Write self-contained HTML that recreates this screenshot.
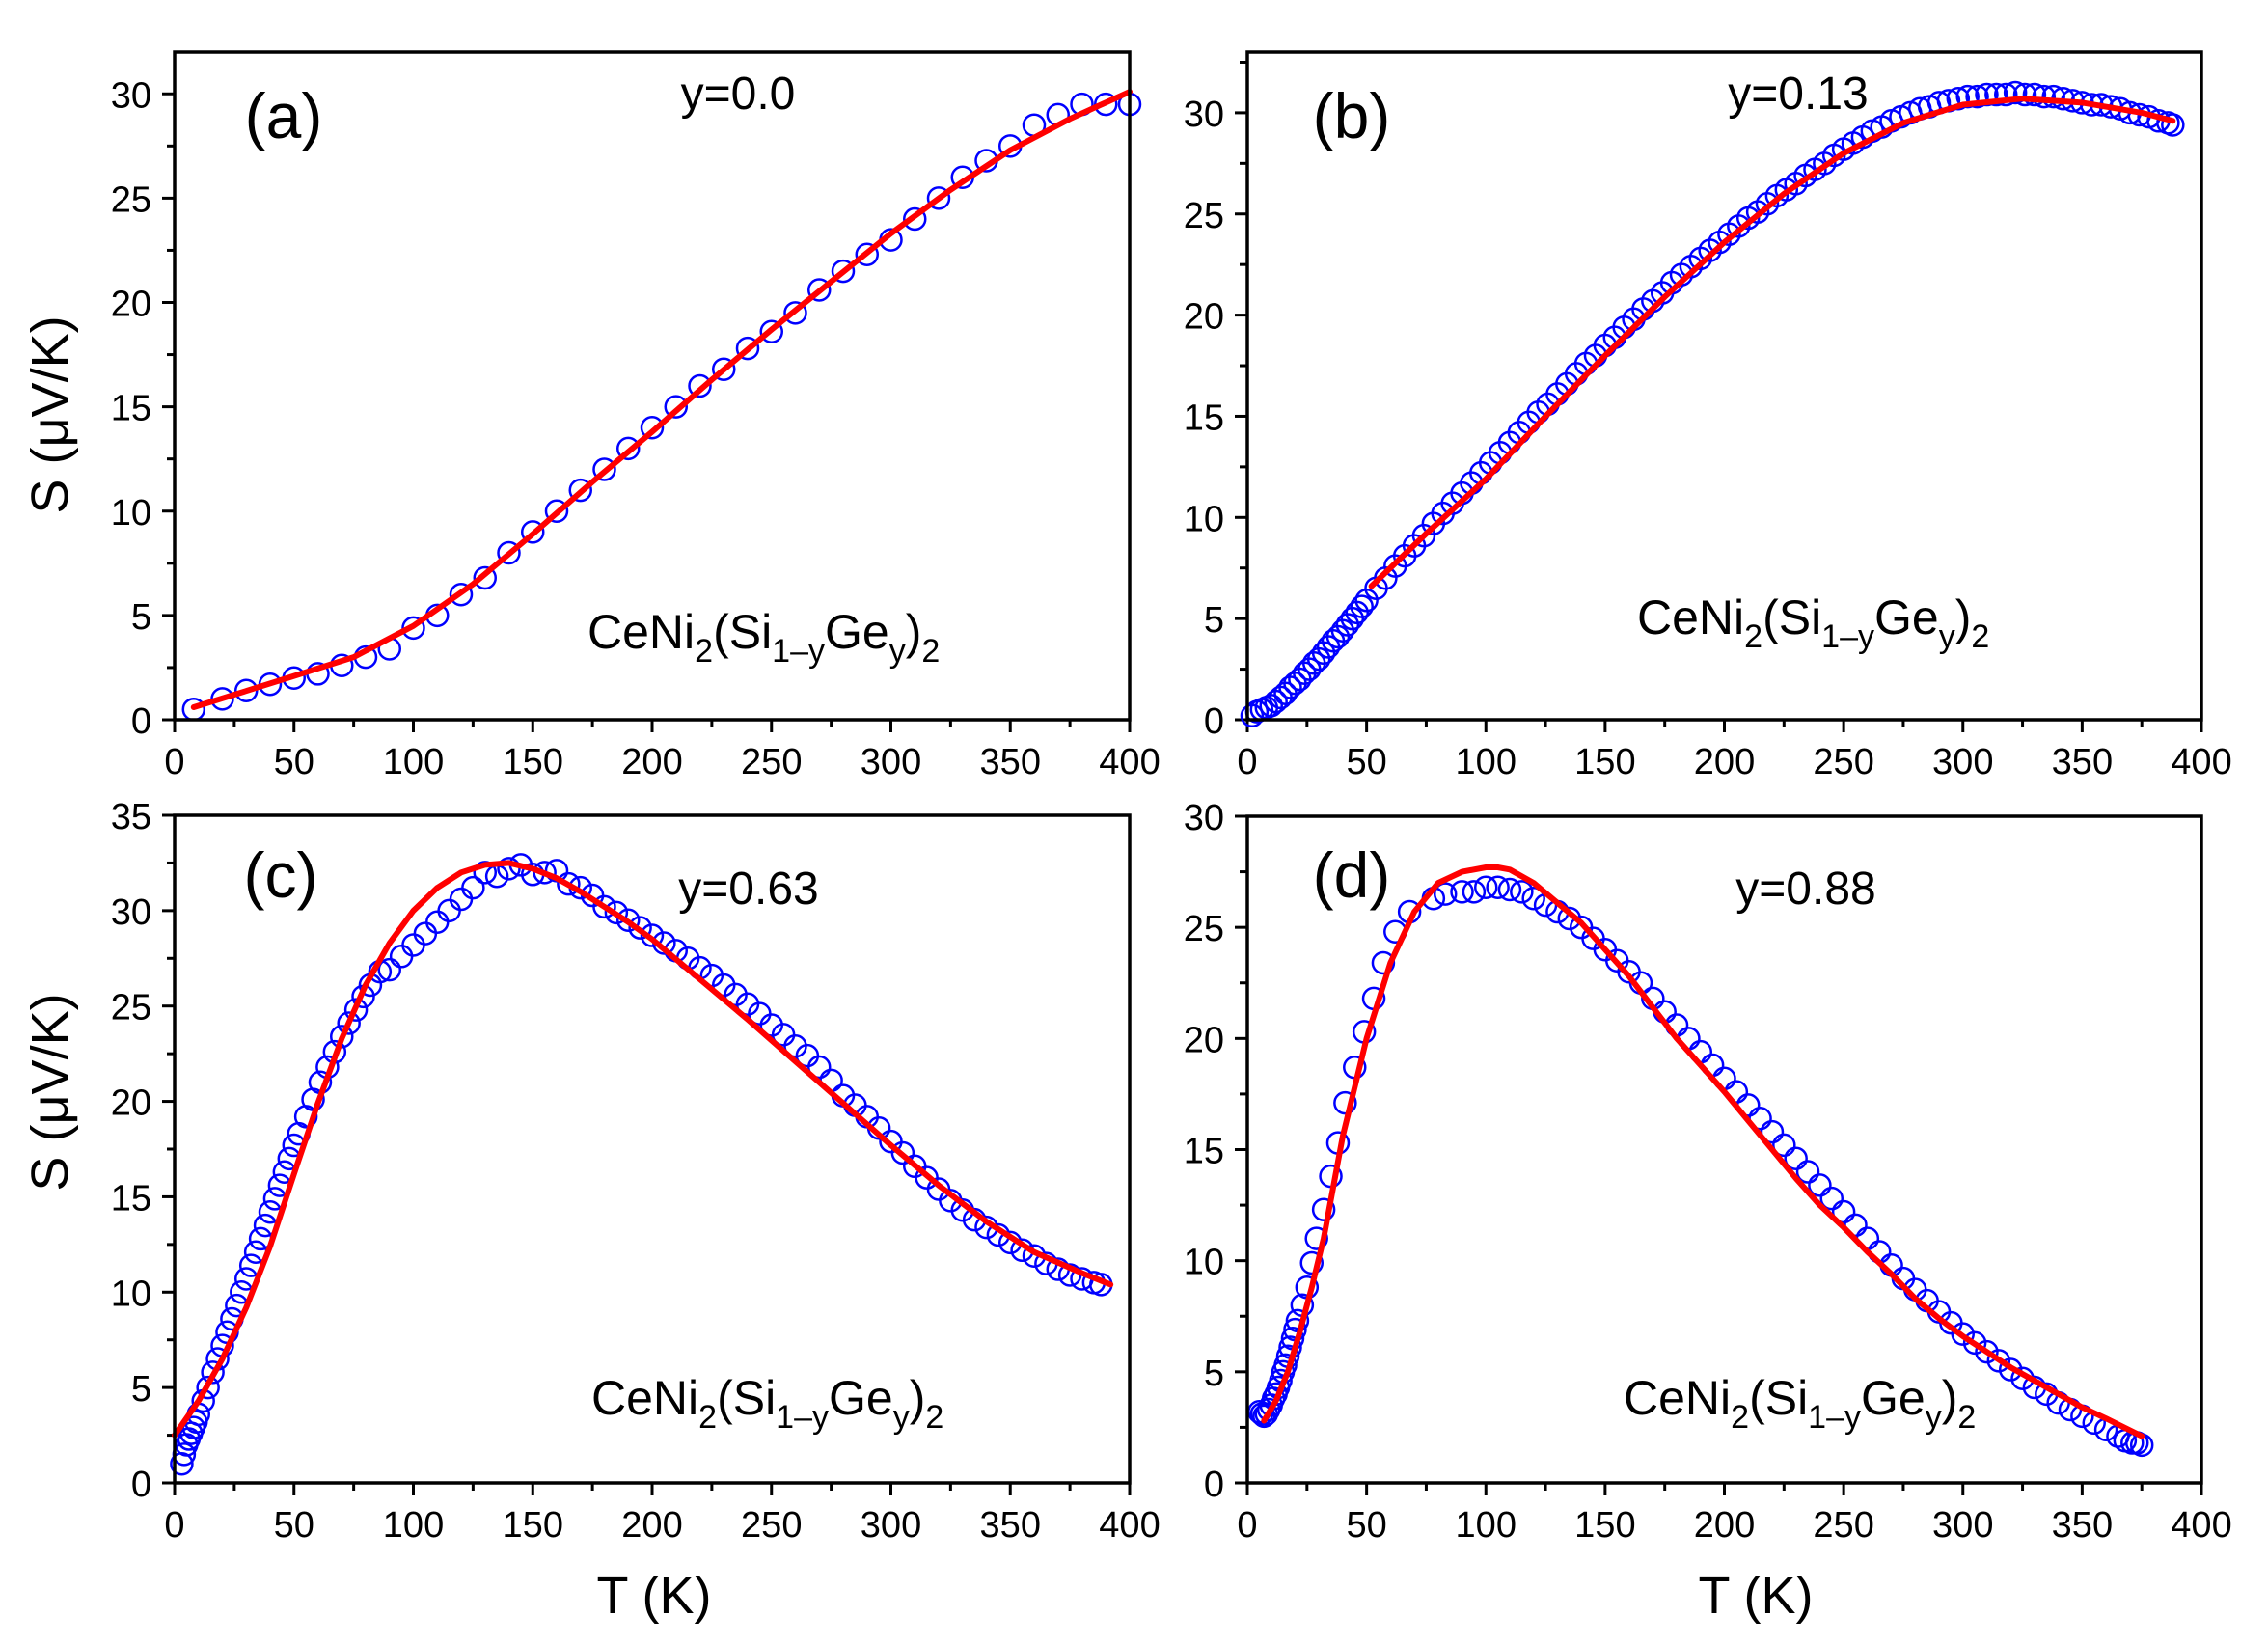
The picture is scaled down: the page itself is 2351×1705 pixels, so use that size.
<!DOCTYPE html>
<html><head><meta charset="utf-8"><style>
html,body{margin:0;padding:0;background:#fff;}
svg{display:block;font-family:"Liberation Sans",sans-serif;}
</style></head><body>
<svg id="fig" width="2351" height="1705" viewBox="0 0 2351 1705"></svg>
<script>
// Panel (a) y=0.0
const aDataT=[8,20,30,40,50,60,70,80,90,100,110,120,130,140,150,160,170,180,190,200,210,220,230,240,250,260,270,280,290,300,310,320,330,340,350,360,370,380,390,400];
const aDataS=[0.5,1.0,1.4,1.7,2.0,2.2,2.6,3.0,3.4,4.4,5.0,6.0,6.8,8.0,9.0,10.0,11.0,12.0,13.0,14.0,15.0,16.0,16.8,17.8,18.6,19.5,20.6,21.5,22.3,23.0,24.0,25.0,26.0,26.8,27.5,28.5,29.0,29.5,29.5,29.5];
const aFitT=[8,25,50,75,100,125,150,175,200,225,250,275,300,325,350,375,400];
const aFitS=[0.6,1.2,2.1,3.0,4.5,6.5,8.9,11.4,13.8,16.3,18.7,21.0,23.3,25.4,27.3,28.8,30.1];
// Panel (b) y=0.13
const bDataT=[2,4,6,8,10,12,14,16,18,20,22,24,26,28,30,32,34,36,38,40,42,44,46,48,50,54,58,62,66,70,74,78,82,86,90,94,98,102,106,110,114,118,122,126,130,134,138,142,146,150,154,158,162,166,170,174,178,182,186,190,194,198,202,206,210,214,218,222,226,230,234,238,242,246,250,254,258,262,266,270,274,278,282,286,290,294,298,302,306,310,314,318,322,326,330,334,338,342,346,350,354,358,362,366,370,374,378,382,386,388];
const bDataS=[0.2,0.4,0.5,0.6,0.7,0.9,1.1,1.3,1.6,1.8,2.0,2.3,2.5,2.8,3.0,3.3,3.6,3.9,4.1,4.4,4.7,5.0,5.3,5.6,5.9,6.5,7.0,7.6,8.1,8.6,9.1,9.7,10.2,10.7,11.2,11.7,12.2,12.7,13.2,13.7,14.2,14.7,15.2,15.6,16.1,16.6,17.1,17.6,18.0,18.5,18.9,19.4,19.8,20.3,20.7,21.1,21.6,22.0,22.4,22.8,23.2,23.6,24.0,24.4,24.8,25.1,25.5,25.9,26.2,26.5,26.9,27.2,27.5,27.9,28.2,28.5,28.8,29.1,29.3,29.6,29.8,30.0,30.2,30.3,30.5,30.6,30.7,30.8,30.8,30.9,30.9,30.9,31.0,30.9,30.9,30.8,30.8,30.7,30.6,30.5,30.4,30.4,30.3,30.2,30.0,29.9,29.8,29.6,29.5,29.4];
const bFitT=[52,75,100,125,150,175,200,225,250,275,300,325,350,375,388];
const bFitS=[6.6,9.2,11.9,15.0,18.0,20.9,23.6,26.0,28.0,29.5,30.4,30.7,30.5,30.0,29.6];
// Panel (c) y=0.63
const cDataT=[3,4,5,6,7,8,9,10,12,14,16,18,20,22,24,26,28,30,32,34,36,38,40,42,44,46,48,50,52,55,58,61,64,67,70,73,76,79,82,86,90,95,100,105,110,115,120,125,130,135,140,145,150,155,160,165,170,175,180,185,190,195,200,205,210,215,220,225,230,235,240,245,250,255,260,265,270,275,280,285,290,295,300,305,310,315,320,325,330,335,340,345,350,355,360,365,370,375,380,385,388];
const cDataS=[1.0,1.5,2.0,2.3,2.6,2.9,3.2,3.6,4.3,5.0,5.8,6.5,7.2,7.9,8.6,9.3,10.0,10.7,11.4,12.1,12.8,13.5,14.2,14.9,15.6,16.3,17.0,17.7,18.3,19.2,20.1,21.0,21.8,22.6,23.4,24.1,24.8,25.5,26.1,26.8,26.9,27.6,28.2,28.8,29.4,30.0,30.6,31.2,32.0,31.8,32.2,32.4,31.9,32.0,32.1,31.4,31.2,30.8,30.2,29.9,29.5,29.1,28.7,28.3,27.9,27.5,27.0,26.6,26.1,25.6,25.1,24.6,24.0,23.5,22.9,22.4,21.8,21.1,20.3,19.8,19.2,18.6,17.9,17.3,16.6,16.0,15.4,14.8,14.3,13.8,13.4,13.0,12.6,12.2,11.9,11.5,11.2,10.9,10.7,10.5,10.4];
const cFitT=[0,10,20,30,40,50,60,70,80,90,100,110,120,130,140,150,160,170,180,190,200,220,240,260,280,300,320,340,360,380,392];
const cFitS=[2.5,4.3,6.5,9.2,12.4,16.2,19.9,23.3,26.1,28.3,30.0,31.2,32.0,32.4,32.5,32.2,31.7,31.0,30.2,29.4,28.5,26.4,24.3,22.1,19.9,17.7,15.6,13.7,12.1,11.0,10.4];
// Panel (d) y=0.88
const dDataT=[5,6,7,8,9,10,11,12,13,14,15,16,17,18,19,20,21,23,25,27,29,32,35,38,41,45,49,53,57,62,68,78,83,90,95,100,105,110,115,120,125,130,135,140,145,150,155,160,165,170,175,180,185,190,195,200,205,210,215,220,225,230,235,240,245,250,255,260,265,270,275,280,285,290,295,300,305,310,315,320,325,330,335,340,345,350,355,360,365,368,371,373,375];
const dDataS=[3.2,3.1,3.0,3.1,3.3,3.5,3.8,4.0,4.3,4.6,5.0,5.3,5.7,6.1,6.5,6.9,7.3,8.0,8.8,9.9,11.0,12.3,13.8,15.3,17.1,18.7,20.3,21.8,23.4,24.8,25.7,26.3,26.5,26.6,26.6,26.8,26.8,26.7,26.6,26.3,26.0,25.7,25.4,25.0,24.5,24.0,23.5,23.0,22.5,21.8,21.2,20.6,20.0,19.4,18.8,18.2,17.6,17.0,16.4,15.8,15.2,14.6,14.0,13.4,12.8,12.2,11.6,11.0,10.4,9.8,9.2,8.7,8.2,7.7,7.2,6.7,6.3,5.9,5.5,5.1,4.7,4.3,4.0,3.6,3.3,3.0,2.7,2.4,2.1,1.9,1.8,1.8,1.7];
const dFitT=[7,12,17,22,27,32,40,50,60,70,80,90,100,105,110,120,130,140,150,160,170,180,190,200,210,220,230,240,250,260,270,280,290,300,310,320,330,340,350,360,375];
const dFitS=[2.8,3.7,5.0,6.8,8.8,11.0,15.6,20.0,23.4,25.7,27.0,27.5,27.7,27.7,27.6,27.0,26.1,25.2,24.0,22.8,21.4,20.0,18.8,17.6,16.3,15.0,13.7,12.5,11.5,10.4,9.4,8.3,7.4,6.6,5.9,5.2,4.6,4.0,3.4,2.9,2.1];

const NS="http://www.w3.org/2000/svg";
const svg=document.getElementById('fig');
function mk(tag,attrs,parent){const e=document.createElementNS(NS,tag);for(const k in attrs)e.setAttribute(k,attrs[k]);(parent||svg).appendChild(e);return e;}

const panels=[
 {id:'a',L:181,R:1171,T:54,B:746,ymax:32,ymaj:5,ymin:2.5,dT:aDataT,dS:aDataS,fT:aFitT,fS:aFitS,lab:'(a)',labX:294,labY:143,yl:'y=0.0',ylX:765,ylY:113,fx:609,fy:672},
 {id:'b',L:1293,R:2282,T:54,B:746,ymax:33,ymaj:5,ymin:2.5,dT:bDataT,dS:bDataS,fT:bFitT,fS:bFitS,lab:'(b)',labX:1401,labY:143,yl:'y=0.13',ylX:1864,ylY:113,fx:1697,fy:657},
 {id:'c',L:181,R:1171,T:845,B:1537,ymax:35,ymaj:5,ymin:2.5,dT:cDataT,dS:cDataS,fT:cFitT,fS:cFitS,lab:'(c)',labX:291,labY:930,yl:'y=0.63',ylX:776,ylY:937,fx:613,fy:1466},
 {id:'d',L:1293,R:2282,T:846,B:1537,ymax:30,ymaj:5,ymin:2.5,dT:dDataT,dS:dDataS,fT:dFitT,fS:dFitS,lab:'(d)',labX:1401,labY:930,yl:'y=0.88',ylX:1872,ylY:937,fx:1683,fy:1466}
];

panels.forEach(p=>{
  const g=mk('g',{});
  
  
  const xs=v=>p.L+(p.R-p.L)*v/400;
  const ys=v=>p.B-(p.B-p.T)*v/p.ymax;
  for(let v=0;v<=400;v+=25){
    const maj=v%50===0;
    const t=mk('line',{x1:xs(v),x2:xs(v),y1:p.B,y2:p.B+(maj?13:8),stroke:'#000','stroke-width':3},g);
    
    
    if(maj){const tx=mk('text',{x:xs(v),y:p.B+56,'font-size':38,'text-anchor':'middle'},g);tx.textContent=v;
      
      }
  }
  for(let v=0;v<=p.ymax+0.001;v+=p.ymin){
    const maj=Math.abs(v/p.ymaj-Math.round(v/p.ymaj))<1e-6;
    const t=mk('line',{x1:p.L,x2:p.L-(maj?13:8),y1:ys(v),y2:ys(v),stroke:'#000','stroke-width':3},g);
    
    
    if(maj){const tx=mk('text',{x:p.L-24,y:ys(v)+14,'font-size':38,'text-anchor':'end'},g);tx.textContent=v;
      
      }
  }
  const dg=mk('g',{fill:'none',stroke:'#0000ff','stroke-width':2.5},g);
  
  
  p.dT.forEach((t,i)=>{const c=mk('circle',{cx:xs(t),cy:ys(p.dS[i]),r:11},dg);
    
    });
  const pts=p.fT.map((t,i)=>xs(t).toFixed(1)+','+ys(p.fS[i]).toFixed(1)).join(' ');
  const fl=mk('polyline',{points:pts,fill:'none',stroke:'#ff0000','stroke-width':6,'stroke-linejoin':'round','stroke-linecap':'round'},g);
  
  
  const fr=mk('rect',{x:p.L,y:p.T,width:p.R-p.L,height:p.B-p.T,fill:'none',stroke:'#000','stroke-width':3.5},g);
  
  
  const lb=mk('text',{x:p.labX,y:p.labY,'font-size':66,'text-anchor':'middle'},g);lb.textContent=p.lab;
  
  
  const yl=mk('text',{x:p.ylX,y:p.ylY,'font-size':48,'text-anchor':'middle'},g);yl.textContent=p.yl;
  
  
  const f=mk('text',{x:p.fx,y:p.fy,'font-size':50},g);
  
  
  f.innerHTML='CeNi<tspan font-size="34" dy="14">2</tspan><tspan dy="-14">(Si</tspan><tspan font-size="34" dy="14">1\u2013y</tspan><tspan dy="-14">Ge</tspan><tspan font-size="34" dy="14">y</tspan><tspan dy="-14">)</tspan><tspan font-size="34" dy="14">2</tspan>';
});
</script>
<svg style="position:absolute;left:0;top:0" width="2351" height="1705">
<text x="70" y="430" font-family="Liberation Sans, sans-serif" font-size="54" text-anchor="middle" transform="rotate(-90 70 430)">S  (μV/K)</text>
<text x="70" y="1132" font-family="Liberation Sans, sans-serif" font-size="54" text-anchor="middle" transform="rotate(-90 70 1132)">S (μV/K)</text>
<text x="678" y="1672" font-family="Liberation Sans, sans-serif" font-size="54" text-anchor="middle">T (K)</text>
<text x="1820" y="1672" font-family="Liberation Sans, sans-serif" font-size="54" text-anchor="middle">T  (K)</text>
</svg>
</body></html>
